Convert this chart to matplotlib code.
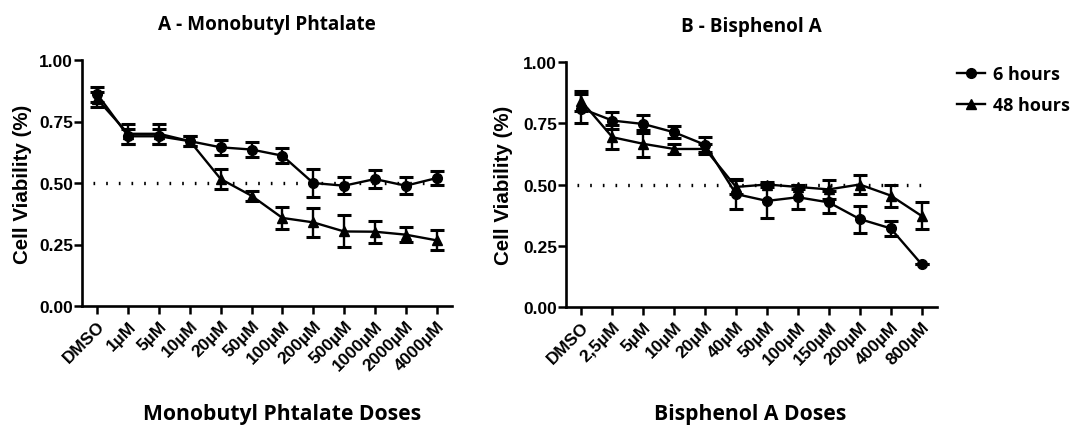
import matplotlib
matplotlib.use('Agg')
import matplotlib.pyplot as plt
from matplotlib.lines import Line2D
import numpy as np

# Panel A - Monobutyl Phtalate
mbp_doses = ['DMSO', '1µM', '5µM', '10µM', '20µM', '50µM', '100µM', '200µM',
             '500µM', '1000µM', '2000µM', '4000µM']
mbp_6h = [0.86, 0.69, 0.69, 0.67, 0.645, 0.636, 0.611, 0.50, 0.489, 0.516, 0.489, 0.52]
mbp_6h_err = [0.03, 0.03, 0.03, 0.02, 0.03, 0.03, 0.03, 0.055, 0.035, 0.035, 0.035, 0.03]
mbp_48h = [0.84, 0.70, 0.70, 0.67, 0.516, 0.448, 0.358, 0.34, 0.303, 0.302, 0.29, 0.267]
mbp_48h_err = [0.03, 0.04, 0.04, 0.02, 0.04, 0.02, 0.045, 0.06, 0.065, 0.045, 0.03, 0.04]

# Panel B - Bisphenol A
bpa_doses = ['DMSO', '2,5µM', '5µM', '10µM', '20µM', '40µM', '50µM', '100µM',
             '150µM', '200µM', '400µM', '800µM']
bpa_6h = [0.81, 0.761, 0.747, 0.713, 0.662, 0.461, 0.433, 0.448, 0.427, 0.359, 0.321, 0.175]
bpa_6h_err = [0.06, 0.035, 0.035, 0.025, 0.03, 0.06, 0.07, 0.05, 0.045, 0.055, 0.03, 0.0]
bpa_48h = [0.84, 0.693, 0.666, 0.645, 0.645, 0.49, 0.50, 0.49, 0.48, 0.50, 0.455, 0.372]
bpa_48h_err = [0.04, 0.05, 0.055, 0.02, 0.02, 0.03, 0.01, 0.01, 0.04, 0.04, 0.045, 0.055]

W, H = 1077, 427
title_font = ['Open Sans', 'DejaVu Sans']
tick_font = ['Liberation Sans', 'DejaVu Sans']


def draw_panel(ax, doses, y6, e6, y48, e48, title):
    x = np.arange(len(doses))
    ax.hlines(0.5, -0.15, len(doses) - 0.85, colors='k', linewidth=2.4,
              linestyles=(0, (0.5, 3.3)), zorder=1)
    style = dict(color='k', lw=1.7, ms=7, capsize=5, capthick=2.2, elinewidth=1.7, zorder=3)
    ax.errorbar(x, y6, yerr=e6, fmt='-o', **style)
    ax.errorbar(x, y48, yerr=e48, fmt='-^', **style)
    ax.set_xlim(-0.5, len(doses) - 0.5)
    ax.set_ylim(0, 1.0)
    ax.set_yticks([0, 0.25, 0.5, 0.75, 1.0])
    ax.set_yticklabels(['0.00', '0.25', '0.50', '0.75', '1.00'])
    ax.set_xticks(x)
    ax.set_xticklabels(doses, rotation=45, ha='right', rotation_mode='anchor')
    for lab in ax.get_xticklabels() + ax.get_yticklabels():
        lab.set_family(tick_font)
        lab.set_fontweight('bold')
        lab.set_fontsize(12.5)
    ax.tick_params(axis='both', direction='out', length=5.5, width=1.8, pad=1)
    ax.tick_params(axis='x', pad=3)
    for s in ['top', 'right']:
        ax.spines[s].set_visible(False)
    for s in ['left', 'bottom']:
        ax.spines[s].set_linewidth(1.9)
    ax.set_ylabel('Cell Viability (%)', family=tick_font, fontweight='bold', fontsize=14.8)
    ax.set_title(title, family=title_font, fontweight='bold', fontsize=13.7, pad=22)


fig = plt.figure(figsize=(W / 100, H / 100), dpi=100)
ax1 = fig.add_axes([82 / W, 1 - 307 / H, 370 / W, 246 / H])
ax2 = fig.add_axes([566 / W, 1 - 308 / H, 371 / W, 245 / H])

draw_panel(ax1, mbp_doses, mbp_6h, mbp_6h_err, mbp_48h, mbp_48h_err, 'A - Monobutyl Phtalate')
draw_panel(ax2, bpa_doses, bpa_6h, bpa_6h_err, bpa_48h, bpa_48h_err, 'B - Bisphenol A')
ax1.yaxis.set_label_coords(-0.135, 0.5)
ax2.yaxis.set_label_coords(-0.143, 0.5)

fig.text(282 / W, 1 - 415 / H, 'Monobutyl Phtalate Doses', family=title_font,
         fontweight='bold', fontsize=15.2, ha='center', va='center')
fig.text(750 / W, 1 - 415 / H, 'Bisphenol A Doses', family=title_font,
         fontweight='bold', fontsize=15.2, ha='center', va='center')

handles = [Line2D([], [], color='k', lw=1.7, marker='o', ms=7),
           Line2D([], [], color='k', lw=1.7, marker='^', ms=7)]
leg = fig.legend(handles, ['6 hours', '48 hours'], loc='upper left',
                 bbox_to_anchor=(948 / W, 1 - 57 / H), frameon=False, borderpad=0,
                 handlelength=1.55, handletextpad=0.45, labelspacing=0.72,
                 prop=dict(family=title_font, weight='bold', size=13.0))

plt.savefig('out.png', dpi=100)
